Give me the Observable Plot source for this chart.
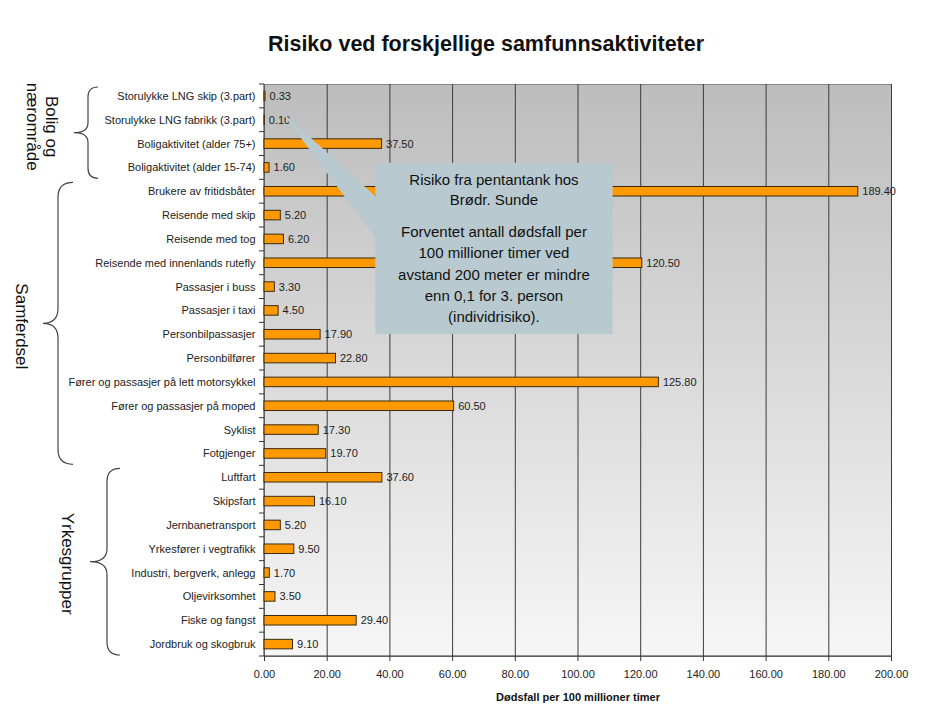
<!DOCTYPE html>
<html><head><meta charset="utf-8">
<script src="https://cdn.jsdelivr.net/npm/d3@7"></script>
<script src="https://cdn.jsdelivr.net/npm/@observablehq/plot@0.6"></script>
<style>body{margin:0;background:#fff;font-family:"Liberation Sans",Arial,sans-serif;}</style>
</head><body><div id="chart"></div>
<script>
const title = "Risiko ved forskjellige samfunnsaktiviteter";
const xLabel = "Dødsfall per 100 millioner timer";
const categories = [
  "Storulykke LNG skip (3.part)",
  "Storulykke LNG fabrikk (3.part)",
  "Boligaktivitet (alder 75+)",
  "Boligaktivitet (alder 15-74)",
  "Brukere av fritidsbåter",
  "Reisende med skip",
  "Reisende med tog",
  "Reisende med innenlands rutefly",
  "Passasjer i buss",
  "Passasjer i taxi",
  "Personbilpassasjer",
  "Personbilfører",
  "Fører og passasjer på lett motorsykkel",
  "Fører og passasjer på moped",
  "Syklist",
  "Fotgjenger",
  "Luftfart",
  "Skipsfart",
  "Jernbanetransport",
  "Yrkesfører i vegtrafikk",
  "Industri, bergverk, anlegg",
  "Oljevirksomhet",
  "Fiske og fangst",
  "Jordbruk og skogbruk"
];
const values = [0.33, 0.10, 37.50, 1.60, 189.40, 5.20, 6.20, 120.50, 3.30, 4.50, 17.90, 22.80, 125.80, 60.50, 17.30, 19.70, 37.60, 16.10, 5.20, 9.50, 1.70, 3.50, 29.40, 9.10];
const xTicks = [0, 20, 40, 60, 80, 100, 120, 140, 160, 180, 200];
const groupNames = [["Bolig og", "nærområde"], ["Samferdsel"], ["Yrkesgrupper"]];
const groupFirst = ["Storulykke LNG skip (3.part)", "Brukere av fritidsbåter", "Luftfart"];
const groupLast = ["Boligaktivitet (alder 15-74)", "Fotgjenger", "Jordbruk og skogbruk"];
const calloutHead = ["Risiko fra pentantank hos", "Brødr. Sunde"];
const calloutBody = ["Forventet antall dødsfall per", "100 millioner timer ved", "avstand 200 meter er mindre", "enn 0,1 for 3. person", "(individrisiko)."];

const rows = categories.map((c, i) => ({category: c, value: values[i]}));
const PI = 0.6;
const FONT = '"Liberation Sans", Arial, sans-serif';

// layout (pixel) styling for decorations
const braceStyle = [
  {xe: 98, xv: 88, xt: 74, lx: 42.5, dyc: -6},
  {xe: 73, xv: 58, xt: 43, lx: 22, dyc: 3},
  {xe: 120, xv: 107, xt: 90, lx: 68, dyc: 2}
];

function defsMark() {
  const defs = d3.create("svg:defs");
  const lg = defs.append("linearGradient").attr("id", "bgGrad")
    .attr("x1", 0).attr("y1", 0).attr("x2", 0).attr("y2", 1);
  lg.append("stop").attr("offset", "0%").attr("stop-color", "#bdbdbd");
  lg.append("stop").attr("offset", "100%").attr("stop-color", "#f6f6f6");
  return defs.node();
}

function decorations(index, scales, vals, dims) {
  const {x, y} = scales;
  const step = y(categories[1]) - y(categories[0]);
  const bw = step * (1 - PI);
  const gap = (step - bw) / 2;
  const top = dims.marginTop, bottom = dims.height - dims.marginBottom;
  const left = dims.marginLeft, right = dims.width - dims.marginRight;
  const g = d3.create("svg:g");
  g.append("line").attr("x1", left).attr("x2", right).attr("y1", bottom).attr("y2", bottom).attr("stroke", "#333");
  g.append("line").attr("x1", left).attr("x2", left).attr("y1", top).attr("y2", bottom).attr("stroke", "#333");
  for (let k = 0; k <= categories.length; k++) {
    const yy = k < categories.length ? y(categories[k]) - gap : y(categories[k - 1]) + bw + gap;
    g.append("line").attr("x1", left - 5).attr("x2", left).attr("y1", yy).attr("y2", yy).attr("stroke", "#333");
  }
  groupNames.forEach((names, i) => {
    const s = braceStyle[i];
    const y0 = y(groupFirst[i]) - gap + 3;
    const y1 = y(groupLast[i]) + bw + gap - 1;
    const ym = (y0 + y1) / 2;
    const r = s.xe - s.xv;
    const p = `M${s.xe},${y0} Q${s.xv},${y0} ${s.xv},${y0 + r} L${s.xv},${ym - r} Q${s.xv},${ym} ${s.xt},${ym} Q${s.xv},${ym} ${s.xv},${ym + r} L${s.xv},${y1 - r} Q${s.xv},${y1} ${s.xe},${y1}`;
    g.append("path").attr("d", p).attr("fill", "none").attr("stroke", "#444").attr("stroke-width", 1.2);
    const n = names.length;
    const t = g.append("text")
      .attr("transform", `translate(${s.lx + (n - 1) * 9.5},${ym + s.dyc}) rotate(90)`)
      .attr("text-anchor", "middle").attr("font-family", FONT).attr("font-size", 17).attr("fill", "#111");
    names.forEach((nm, j) => {
      t.append("tspan").attr("x", 0).attr("y", j * 19).attr("dy", "0.35em").text(nm);
    });
  });
  return g.node();
}

function callout(index, scales, vals, dims) {
  const {x} = scales;
  const top = dims.marginTop;
  const step = (dims.height - dims.marginTop - dims.marginBottom) / categories.length;
  const Y = k => top + k * step;
  const bx1 = x(35.5), bx2 = x(111.2), by1 = Y(3.31), by2 = Y(10.49);
  const g = d3.create("svg:g");
  const fill = "#b8c9d0";
  g.append("polygon").attr("points", `${x(5.1)},${Y(1.09)} ${bx1 + 1},${Y(4.74)} ${bx1 + 1},${Y(6.5)}`).attr("fill", fill);
  g.append("rect").attr("x", bx1).attr("y", by1).attr("width", bx2 - bx1).attr("height", by2 - by1).attr("fill", fill);
  const cx = (bx1 + bx2) / 2;
  const lines = [...calloutHead.map((t, i) => [t, 17 + i * 19.5]), ...calloutBody.map((t, i) => [t, 69 + i * 21.2])];
  lines.forEach(([t, dy]) => {
    g.append("text").attr("x", cx).attr("y", by1 + dy).attr("dy", "0.35em")
      .attr("text-anchor", "middle").attr("font-family", FONT).attr("font-size", 15).attr("fill", "#111").text(t);
  });
  return g.node();
}

const chart = Plot.plot({
  width: 927,
  height: 726,
  marginLeft: 264,
  marginRight: 36,
  marginTop: 84,
  marginBottom: 70,
  style: {fontFamily: FONT, color: "#222", background: "#fff"},
  x: {domain: [0, 200], ticks: xTicks, tickFormat: d3.format(".2f")},
  y: {domain: categories, paddingInner: PI, paddingOuter: PI / 2, round: false},
  marks: [
    defsMark,
    Plot.frame({fill: "url(#bgGrad)", stroke: "#8a8a8a"}),
    Plot.ruleX(xTicks.slice(1), {stroke: "#3c3c3c", strokeWidth: 1}),
    decorations,
    Plot.barX(rows, {x: "value", y: "category", fill: "#FF9900", stroke: "#3a2a10", strokeWidth: 1}),
    Plot.text(rows, {x: "value", y: "category", text: d => d3.format(".2f")(d.value), dx: 4, textAnchor: "start", fontSize: 11, fill: "#222"}),
    Plot.axisY({tickSize: 0, tickPadding: 9, fontSize: 11, label: null}),
    Plot.axisX({ticks: xTicks, tickFormat: d3.format(".2f"), tickSize: 5, tickPadding: 9, fontSize: 11, label: null, stroke: "#333"}),
    Plot.text([xLabel], {frameAnchor: "bottom", lineAnchor: "middle", text: d => d, dy: 41, fontSize: 11, fontWeight: "bold", fill: "#111"}),
    Plot.text([title], {frameAnchor: "top", lineAnchor: "middle", text: d => d, dx: -92, dy: -40, fontSize: 21.5, fontWeight: "bold", fill: "#111"}),
    callout
  ]
});
document.getElementById("chart").appendChild(chart);
</script>
</body></html>
